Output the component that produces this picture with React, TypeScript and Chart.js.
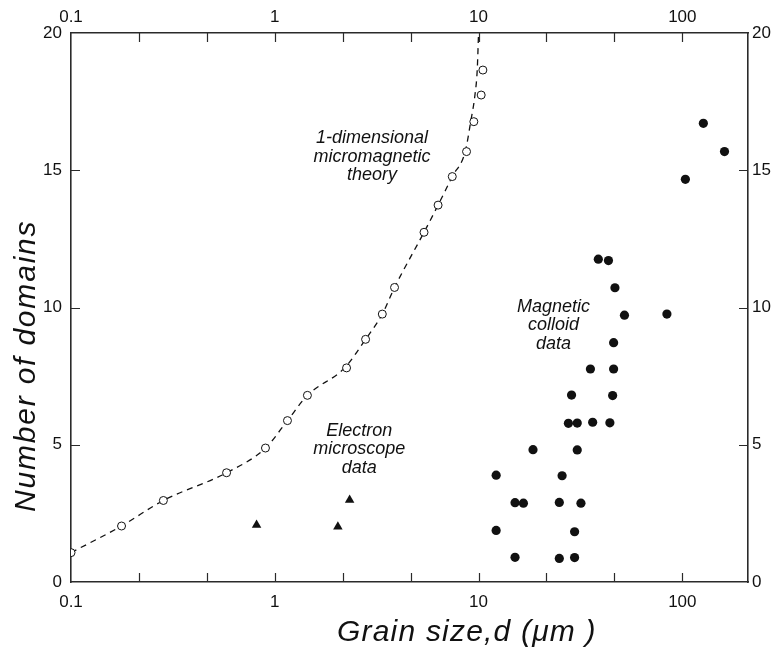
import React, { useEffect, useRef } from "react";
import { Chart, registerables } from "chart.js";

Chart.register(...registerables);

// Theory points (open circles): grain size (µm) and number of domains
const theoryX = [0.1, 0.177, 0.284, 0.58, 0.9, 1.154, 1.446, 2.25, 2.79, 3.37, 3.87, 5.4, 6.33, 7.43, 8.73, 9.48, 10.3, 10.5];
const theoryY = [1.07, 2.04, 2.97, 3.98, 4.88, 5.88, 6.8, 7.8, 8.84, 9.76, 10.73, 12.74, 13.73, 14.77, 15.68, 16.77, 17.74, 18.65];

// Dashed theory curve
const curveX = [0.1, 0.177, 0.284, 0.58, 0.9, 1.154, 1.446, 2.2, 2.79, 3.37, 3.87, 5.4, 6.33, 7.43, 8.6, 9.15, 9.6, 9.85, 10.0];
const curveY = [1.07, 2.04, 2.97, 3.98, 4.88, 5.88, 6.8, 7.8, 8.84, 9.76, 10.73, 12.74, 13.73, 14.77, 15.68, 16.77, 17.74, 18.65, 20];

// Electron microscope data (filled triangles)
const emX = [0.814, 2.04, 2.33];
const emY = [2.08, 2.01, 2.99];

// Magnetic colloid data (filled circles)
const mcX = [38.7, 43.4, 46.7, 52.0, 84.0, 46.0, 35.4, 46.0, 28.6, 45.5, 27.6, 30.5, 36.3, 44.1, 18.5, 30.5, 12.2, 25.7, 15.1, 16.6, 24.9, 31.8, 12.2, 29.6, 15.1, 24.9, 29.6, 126.8, 161, 103.5];
const mcY = [11.76, 11.71, 10.72, 9.72, 9.76, 8.72, 7.76, 7.76, 6.81, 6.79, 5.78, 5.79, 5.82, 5.8, 4.82, 4.81, 3.89, 3.87, 2.89, 2.87, 2.9, 2.87, 1.88, 1.83, 0.9, 0.86, 0.89, 16.71, 15.68, 14.67];

// Axes
const xMin = 0.1;
const xMax = 210;
const xTickValues = [0.1, 0.2154, 0.4642, 1, 2.154, 4.642, 10, 21.54, 46.42, 100];
const xLabelValues = [0.1, 1, 10, 100];
const yMin = 0;
const yMax = 20;
const yTickValues = [0, 5, 10, 15, 20];

// Text annotations (data coordinates of first baseline)
const annoLines = [
  ["1-dimensional", "micromagnetic", "theory"],
  ["Electron", "microscope", "data"],
  ["Magnetic", "colloid", "data"],
];
const annoX = [3.0, 2.6, 23.3];
const annoY = [15.99, 5.32, 9.84];

const xTitle = "Grain size,d (\u03bcm )";
const yTitle = "Number of domains";

const INK = "#111111";
const AXIS = "#2a2a2a";
const FONT = "'Liberation Sans', Arial, Helvetica, sans-serif";

const toPts = (xs: number[], ys: number[]) => xs.map((x, i) => ({ x, y: ys[i] }));

export default function App() {
  const ref = useRef<HTMLCanvasElement | null>(null);

  useEffect(() => {
    const canvas = ref.current;
    if (!canvas) return;

    const tickPlugin = {
      id: "inwardTicks",
      afterDatasetsDraw(chart: any) {
        const ctx = chart.ctx;
        const { left, right, top, bottom } = chart.chartArea;
        const len = 9;
        ctx.save();
        ctx.strokeStyle = AXIS;
        ctx.lineWidth = 1.2;
        ctx.beginPath();
        for (const id of ["x", "x2"]) {
          const s = chart.scales[id];
          s.ticks.forEach((t: any) => {
            const px = Math.round(s.getPixelForValue(t.value)) + 0.5;
            if (px <= left + 1 || px >= right - 1) return;
            if (id === "x") {
              ctx.moveTo(px, bottom);
              ctx.lineTo(px, bottom - len);
            } else {
              ctx.moveTo(px, top);
              ctx.lineTo(px, top + len);
            }
          });
        }
        for (const id of ["y", "y2"]) {
          const s = chart.scales[id];
          s.ticks.forEach((t: any) => {
            const py = Math.round(s.getPixelForValue(t.value)) + 0.5;
            if (py <= top + 1 || py >= bottom - 1) return;
            if (id === "y") {
              ctx.moveTo(left, py);
              ctx.lineTo(left + len, py);
            } else {
              ctx.moveTo(right, py);
              ctx.lineTo(right - len, py);
            }
          });
        }
        ctx.stroke();
        ctx.restore();
      },
    };

    const textPlugin = {
      id: "texts",
      afterDraw(chart: any) {
        const ctx = chart.ctx;
        const xs = chart.scales.x;
        const ys = chart.scales.y;
        ctx.save();
        ctx.fillStyle = INK;
        ctx.font = `italic 18px ${FONT}`;
        ctx.textAlign = "center";
        ctx.textBaseline = "alphabetic";
        annoLines.forEach((lines, i) => {
          const cx = xs.getPixelForValue(annoX[i]);
          const cy = ys.getPixelForValue(annoY[i]);
          lines.forEach((l, j) => ctx.fillText(l, cx, cy + j * 18.5));
        });
        // axis titles
        ctx.textAlign = "left";
        ctx.font = `italic 30px ${FONT}`;
        (ctx as any).letterSpacing = "1.2px";
        ctx.fillText(xTitle, 337, 641);
        ctx.save();
        ctx.translate(35, 512);
        ctx.rotate(-Math.PI / 2);
        (ctx as any).letterSpacing = "1.8px";
        ctx.fillText(yTitle, 0, 0);
        ctx.restore();
        (ctx as any).letterSpacing = "0px";
        ctx.restore();
      },
    };

    const tickFont = { family: FONT, size: 17 };
    const xLabel = (v: any) => {
      const n = Number(v);
      return xLabelValues.some((d) => Math.abs(d - n) / d < 1e-6) ? String(n) : "";
    };
    const xScale = (position: string, h: number, pad: number) => ({
      type: "logarithmic",
      position,
      min: xMin,
      max: xMax,
      grid: { display: false, drawTicks: false },
      border: { display: true, color: AXIS, width: 1.6 },
      ticks: { autoSkip: false, maxRotation: 0, minRotation: 0, padding: pad, color: INK, font: tickFont, callback: xLabel },
      afterBuildTicks: (s: any) => {
        s.ticks = xTickValues.map((v) => ({ value: v }));
      },
      afterFit: (s: any) => {
        s.height = h;
      },
    });
    const yScale = (position: string, w: number, pad: number) => ({
      type: "linear",
      position,
      min: yMin,
      max: yMax,
      grid: { display: false, drawTicks: false },
      border: { display: true, color: AXIS, width: 1.6 },
      ticks: { padding: pad, color: INK, font: tickFont },
      afterBuildTicks: (s: any) => {
        s.ticks = yTickValues.map((v) => ({ value: v }));
      },
      afterFit: (s: any) => {
        s.width = w;
      },
    });

    const chart = new Chart(canvas, {
      type: "scatter",
      data: {
        datasets: [
          {
            label: "Magnetic colloid data",
            data: toPts(mcX, mcY),
            pointStyle: "circle",
            pointRadius: 4.6,
            backgroundColor: INK,
            borderColor: INK,
            borderWidth: 0,
            order: 1,
          },
          {
            label: "Electron microscope data",
            data: toPts(emX, emY),
            pointStyle: "triangle",
            pointRadius: 5.5,
            backgroundColor: INK,
            borderColor: INK,
            borderWidth: 0,
            order: 1,
          },
          {
            label: "Theory points",
            data: toPts(theoryX, theoryY),
            pointStyle: "circle",
            pointRadius: 4,
            backgroundColor: "#ffffff",
            borderColor: INK,
            borderWidth: 1,
            order: 1,
          },
          {
            label: "1-dimensional micromagnetic theory",
            data: toPts(curveX, curveY),
            showLine: true,
            pointRadius: 0,
            borderColor: INK,
            borderWidth: 1.3,
            borderDash: [6, 5],
            cubicInterpolationMode: "monotone",
            fill: false,
            order: 5,
          },
        ],
      },
      options: {
        animation: false,
        responsive: false,
        layout: { padding: 0 },
        plugins: { legend: { display: false }, tooltip: { enabled: false }, title: { display: false } },
        scales: {
          x: xScale("bottom", 66, 10),
          x2: xScale("top", 33, 5),
          y: yScale("left", 71, 9),
          y2: yScale("right", 28, 4),
        } as any,
      },
      plugins: [tickPlugin, textPlugin],
    } as any);

    return () => chart.destroy();
  }, []);

  return (
    <div style={{ position: "fixed", left: 0, top: 0, width: 776, height: 648, background: "#fff" }}>
      <canvas ref={ref} width={776} height={648} style={{ width: 776, height: 648, display: "block" }} />
    </div>
  );
}
